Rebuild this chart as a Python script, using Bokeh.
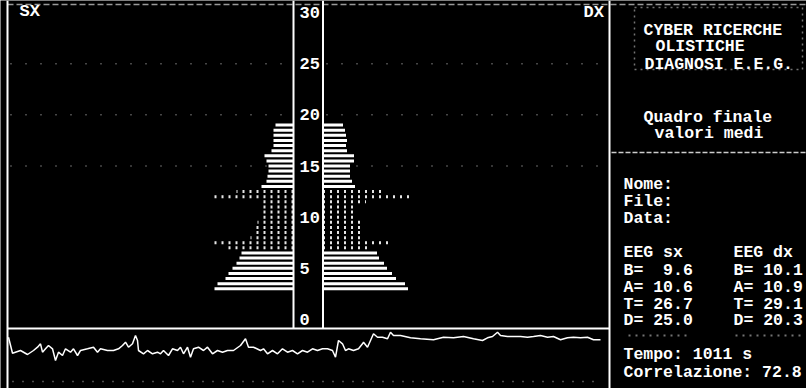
from bokeh.plotting import figure
from bokeh.models import Range1d
from bokeh.core.properties import value
from bokeh.embed import file_html
from bokeh.resources import INLINE

W, H = 806, 388

# --- spectral averages: frequency bins (Hz) and mean amplitude per hemisphere ---
FREQ_HZ = [3.0, 3.5, 4.0, 4.5, 5.0, 5.5, 6.0, 6.5, 7.0, 7.5, 8.0, 8.5, 9.0, 9.5,
           10.0, 10.5, 11.0, 11.5, 12.0, 12.5, 13.0, 13.5, 14.0, 14.5, 15.0,
           15.5, 16.0, 16.5, 17.0, 17.5, 18.0, 18.5, 19.0]
SX_AMP = [7.9, 7.6, 6.8, 6.5, 6.1, 5.7, 5.4, 5.2, 6.5, 8.3, 4.3, 4.0, 3.8, 3.6,
          3.2, 3.3, 3.1, 3.5, 8.3, 5.7, 3.2, 2.7, 2.6, 2.5, 2.5, 2.7, 2.9, 2.2,
          2.0, 2.0, 2.0, 2.0, 1.8]
DX_AMP = [8.5, 8.2, 7.3, 6.9, 6.4, 6.1, 5.6, 5.4, 4.6, 6.5, 4.1, 4.1, 3.9, 3.8,
          3.5, 3.5, 3.3, 4.3, 8.9, 6.1, 3.2, 2.9, 2.7, 2.7, 2.7, 3.1, 3.1, 2.4,
          2.3, 2.4, 2.3, 2.2, 2.0]
ALPHA_LO, ALPHA_HI = 7.0, 12.5

HZ_TICKS = [0, 5, 10, 15, 20, 25, 30]
HZ_LABELS = ["0", "5", "10", "15", "20", "25", "30"]
HZ_GRID = [15, 20, 25]

# --- correlation trace along the recording ---
TRACE_T = [0, 4, 12, 19, 25, 29, 32, 34, 37, 40, 44, 47, 50, 54, 57, 62, 65, 69,
           72, 79, 85, 89, 92, 99, 105, 110, 114, 117, 120, 124, 127, 129, 130,
           135, 139, 144, 149, 152, 155, 160, 164, 169, 172, 175, 179, 182, 185,
           190, 195, 199, 204, 209, 214, 219, 225, 232, 237, 240, 245, 252, 255,
           259, 264, 269, 274, 279, 284, 289, 294, 299, 304, 309, 314, 319, 324,
           327, 330, 334, 337, 340, 345, 350, 354, 355, 359, 362, 365, 369, 374,
           379, 382, 385, 392, 402, 412, 425, 435, 445, 455, 465, 474, 479, 484,
           489, 492, 499, 505, 512, 519, 525, 532, 539, 545, 552, 559, 565, 572,
           579, 585, 592]
TRACE_AMP = [13.3, -2.7, 0.0, -4.0, 0.0, 3.3, 6.7, -1.7, 1.7, 5.0, 1.7, -10.0,
             -1.7, -5.0, 1.7, -1.7, 1.7, -5.0, 0.0, 1.7, 3.3, -1.7, 1.7, 0.0,
             0.0, 1.7, 5.0, 8.3, 3.3, 6.7, 15.0, 10.0, 0.0, -3.3, 0.0, -3.3,
             -1.7, -3.3, 0.0, -5.0, 1.7, 0.0, 3.3, -3.3, 3.3, -6.7, 1.7, 3.3,
             0.0, 3.3, -3.3, 0.0, -1.7, 0.0, 0.0, 5.0, 11.7, 3.3, 3.3, 0.0, 1.7,
             -3.3, 0.0, -3.3, 1.7, -1.7, 0.0, -3.3, 0.0, -1.7, 1.7, 0.0, 1.7,
             1.7, 0.0, -6.7, 10.0, 6.7, 0.0, 1.7, 0.0, 1.7, 6.7, 8.3, 3.3, 10.0,
             16.7, 13.3, 13.3, 11.7, 18.3, 15.0, 15.0, 12.7, 11.7, 10.7, 13.3,
             12.7, 14.0, 11.7, 10.0, 12.7, 14.0, 18.3, 15.0, 14.0, 14.0, 14.0,
             13.3, 14.0, 15.0, 13.3, 14.0, 10.7, 12.7, 13.3, 12.7, 13.3, 10.7,
             10.7]

# --- summary panel ---
TITLE_LINES = ["CYBER RICERCHE", "OLISTICHE", "DIAGNOSI E.E.G."]
SUBTITLE_LINES = ["Quadro finale", "valori medi"]
FIELD_LINES = ["Nome:", "File:", "Data:"]
BANDS = ["B", "A", "T", "D"]
SX_BANDS = [9.6, 10.6, 26.7, 25.0]
DX_BANDS = [10.1, 10.9, 29.1, 20.3]
TEMPO_S = 1011
CORRELAZIONE = 72.8


def pixel_range(v_a, px_a, v_b, px_b, px_start, px_end):
    """Range whose values sit at the given pixel anchors of the frame."""
    k = (v_b - v_a) / (px_b - px_a)
    return Range1d(start=v_a + (px_start - px_a) * k, end=v_a + (px_end - px_a) * k)


def fixed(s):
    """Keep runs of spaces in monospaced rows (SVG collapses plain spaces)."""
    return s.replace(" ", "\u00a0")


p = figure(width=W, height=H, x_range=Range1d(0, W), y_range=Range1d(H, 0),
           output_backend="svg", toolbar_location=None,
           x_axis_location=None, y_axis_location=None, min_border=0)
p.grid.visible = False
p.background_fill_color = "black"
p.border_fill_color = "black"
p.outline_line_color = None

AXIS_L, AXIS_R = 293, 322.5
p.extra_y_ranges = {
    "hz": pixel_range(0, 319, 30, 12, H, 0),
    "amp": pixel_range(0, 350, 1, 349, H, 0),
}
p.extra_x_ranges = {
    "sx": pixel_range(0, AXIS_L, 1, AXIS_L - 10, 0, W),
    "dx": pixel_range(0, AXIS_R, 1, AXIS_R + 10, 0, W),
    "t": pixel_range(0, 8, 1, 9, 0, W),
}

MONO = value("Liberation Mono")

# screen frame: borders, centre scale strip, trace separator
p.segment(x0=[7, 609, AXIS_L, AXIS_R, 7], y0=[0, 0, 0, 0, 328],
          x1=[7, 609, AXIS_L, AXIS_R, 609], y1=[H, H, 328, 328, 328],
          line_color="white", line_width=2)
p.segment(x0=[7], y0=[4], x1=[806], y1=[4], line_color="white",
          line_width=1.5, line_alpha=0.6, line_dash="6 3")

# faint dotted reference levels
n = len(HZ_GRID)
p.segment(x0=[10] * n + [326] * n, y0=HZ_GRID * 2, x1=[290] * n + [606] * n,
          y1=HZ_GRID * 2, y_range_name="hz", line_color="white",
          line_alpha=0.55, line_width=1.5, line_dash="1 14")

# spectrum bars, mirrored about the centre scale
for name, amps in (("sx", SX_AMP), ("dx", DX_AMP)):
    solid = [(f, a) for f, a in zip(FREQ_HZ, amps) if not ALPHA_LO <= f <= ALPHA_HI]
    alpha = [(f, a) for f, a in zip(FREQ_HZ, amps) if ALPHA_LO <= f <= ALPHA_HI]
    for rows, dash, alp in ((solid, "solid", 1.0), (alpha, "2 5", 0.9)):
        fs = [r[0] for r in rows]
        am = [r[1] for r in rows]
        p.segment(x0=[0] * len(fs), y0=fs, x1=am, y1=fs,
                  x_range_name=name, y_range_name="hz",
                  line_color="white", line_width=3, line_dash=dash,
                  line_alpha=alp)

# frequency scale labels
p.text(x=[299] * len(HZ_TICKS), y=HZ_TICKS, text=HZ_LABELS, y_range_name="hz",
       text_font=MONO, text_font_style="bold", text_font_size="17px",
       text_color="white", text_align="left", text_baseline="middle")

p.text(x=[19, 583], y=[11, 12], text=["SX", "DX"], text_font=MONO,
       text_font_style="bold", text_font_size="17px", text_color="white",
       text_align="left", text_baseline="middle")

# correlation trace and its dotted baseline
p.line(TRACE_T, TRACE_AMP, x_range_name="t", y_range_name="amp",
       line_color="white", line_width=1.5)
p.segment(x0=[12], y0=[381], x1=[600], y1=[381], line_color="white",
          line_alpha=0.6, line_width=1.5, line_dash="1 9")

# summary panel
p.rect(x=[718], y=[38], width=[168], height=[62], fill_alpha=0,
       line_color="white", line_alpha=0.45, line_dash="2 4", line_width=1.5)
p.segment(x0=[611], y0=[152], x1=[806], y1=[152], line_color="white",
          line_alpha=0.8, line_width=1.5, line_dash="5 2")
p.segment(x0=[628, 735], y0=[335, 335], x1=[690, 800], y1=[335, 335],
          line_color="white", line_alpha=0.45, line_width=2, line_dash="2 5")

txt = dict(text_font=MONO, text_font_style="bold", text_font_size="16.5px",
           text_color="white", text_align="left", text_baseline="middle")
p.text(x=[643, 655, 644], y=[30, 46, 64], text=TITLE_LINES, **txt)
p.text(x=[643, 654], y=[117, 133], text=SUBTITLE_LINES, **txt)
p.text(x=[623, 623, 623], y=[184, 201, 218], text=FIELD_LINES, **txt)
p.text(x=[623, 733], y=[252, 252], text=["EEG sx", "EEG dx"], **txt)
rows_y = [270, 287, 304, 320]
p.text(x=[623] * 4, y=rows_y,
       text=[fixed(f"{b}= {v:4.1f}") for b, v in zip(BANDS, SX_BANDS)], **txt)
p.text(x=[733] * 4, y=rows_y,
       text=[fixed(f"{b}= {v:4.1f}") for b, v in zip(BANDS, DX_BANDS)], **txt)
p.text(x=[623, 623], y=[354, 372],
       text=[f"Tempo: {TEMPO_S} s", f"Correlazione: {CORRELAZIONE}"], **txt)

open("out.html", "w").write(file_html(p, INLINE))
